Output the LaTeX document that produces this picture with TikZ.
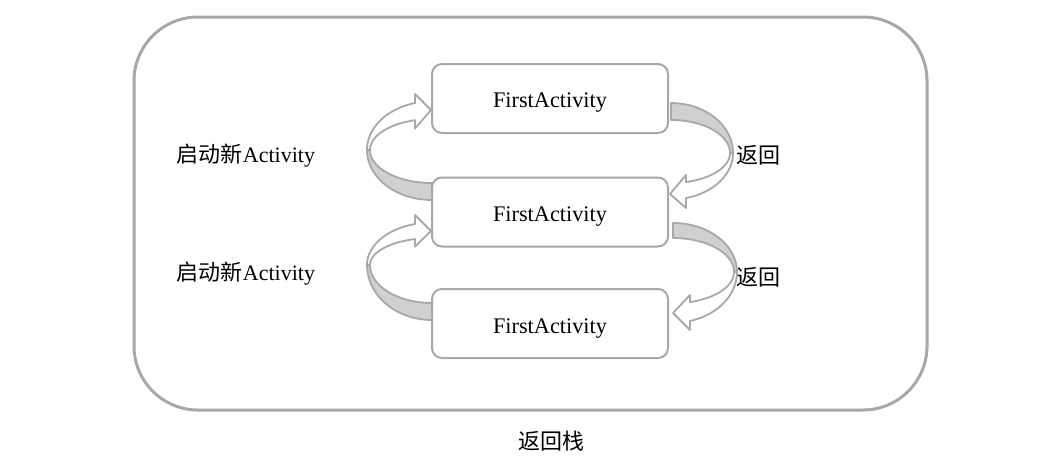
\documentclass[tikz,border=0pt]{standalone}
\usepackage{fontspec}
\setmainfont{Liberation Serif}
\newfontfamily\cjk{Noto Sans CJK SC}
\definecolor{edge}{HTML}{A8A8A8}
\definecolor{band}{HTML}{D0D0D0}
\begin{document}
\begin{tikzpicture}[x=1pt,y=-1pt,
  actbox/.style={draw=edge,line width=2pt,rounded corners=10pt,minimum width=236pt,minimum height=69pt,inner sep=0pt},
  acttext/.style={inner sep=0pt,font=\fontsize{22.3}{26}\selectfont},
  lbl/.style={inner sep=0pt,font=\fontsize{22}{26}\selectfont},
  bandline/.style={draw=edge,line width=1.8pt,line join=round}]
\useasboundingbox (0,0) rectangle (1054,472);
\fill[white] (0,0) rectangle (1054,472);
\node[draw=edge,line width=3pt,rounded corners=64pt,minimum width=793pt,minimum height=393pt,inner sep=0pt] (stack) at (530.5,213.5) {};
\node[actbox] (b1) at (550,98.5) {};
\node[actbox] (b2) at (550,212) {};
\node[actbox] (b3) at (550,323.5) {};
\node[acttext] (t1) at (550,103) {FirstActivity};
\node[acttext] (t2) at (550,217) {FirstActivity};
\node[acttext] (t3) at (550,329) {FirstActivity};
\node[lbl] (l1) at (246,155.5) {{\cjk 启动新}Activity};
\node[lbl] (l2) at (246,273.5) {{\cjk 启动新}Activity};
\node[lbl] (r1) at (758.5,155) {\cjk 返回};
\node[lbl] (r2) at (758.5,277) {\cjk 返回};
\node[lbl] (title) at (551,441) {\cjk 返回栈};
% left arrow 1 (b2 -> b1)
\path[bandline,fill=band] plot[domain=90:180,samples=40,variable=\t] ({432+65*cos(\t)},{150+50*sin(\t)})
  -- plot[domain=180:90,samples=40,variable=\t] ({432+62*cos(\t)},{150+33*sin(\t)}) -- cycle;
\path[bandline,fill=white] plot[domain=180:254.84,samples=40,variable=\t] ({432+65*cos(\t)},{150+48.7*sin(\t)})
  -- (415,94) -- (b1.west |- 0,110) -- (415,128.5)
  -- plot[domain=254.1:180,samples=40,variable=\t] ({432+62*cos(\t)},{150+31*sin(\t)}) -- cycle;
% left arrow 2 (b3 -> b2)
\path[bandline,fill=band] plot[domain=90:180,samples=40,variable=\t] ({432+65*cos(\t)},{265+55*sin(\t)})
  -- plot[domain=180:90,samples=40,variable=\t] ({432+62*cos(\t)},{265+38*sin(\t)}) -- cycle;
\path[bandline,fill=white] plot[domain=180:254.84,samples=40,variable=\t] ({432+65*cos(\t)},{265+42.5*sin(\t)})
  -- (415,215) -- (b2.west |- 0,231) -- (415,246.5)
  -- plot[domain=254.1:180,samples=40,variable=\t] ({432+62*cos(\t)},{265+27*sin(\t)}) -- cycle;
% right arrow 1 (b1 -> b2)
\path[bandline,fill=band] plot[domain=270:360,samples=40,variable=\t] ({671+62*cos(\t)},{153+50*sin(\t)})
  -- plot[domain=360:270,samples=40,variable=\t] ({671+59*cos(\t)},{153+33*sin(\t)}) -- cycle;
\path[bandline,fill=white] plot[domain=0:76,samples=40,variable=\t] ({671+62*cos(\t)},{153+46.4*sin(\t)})
  -- (686,208) -- (670,194) -- (686,175)
  -- plot[domain=75.3:0,samples=40,variable=\t] ({671+59*cos(\t)},{153+30*sin(\t)}) -- cycle;
% right arrow 2 (b2 -> b3)
\path[bandline,fill=band] plot[domain=270:360,samples=40,variable=\t] ({673+64*cos(\t)},{272+49*sin(\t)})
  -- plot[domain=360:270,samples=40,variable=\t] ({673+61*cos(\t)},{272+34*sin(\t)}) -- cycle;
\path[bandline,fill=white] plot[domain=0:74.6,samples=40,variable=\t] ({673+64*cos(\t)},{272+50.8*sin(\t)})
  -- (690,330) -- (673,313) -- (690,295)
  -- plot[domain=73.8:0,samples=40,variable=\t] ({673+61*cos(\t)},{272+31.3*sin(\t)}) -- cycle;
\end{tikzpicture}
\end{document}
